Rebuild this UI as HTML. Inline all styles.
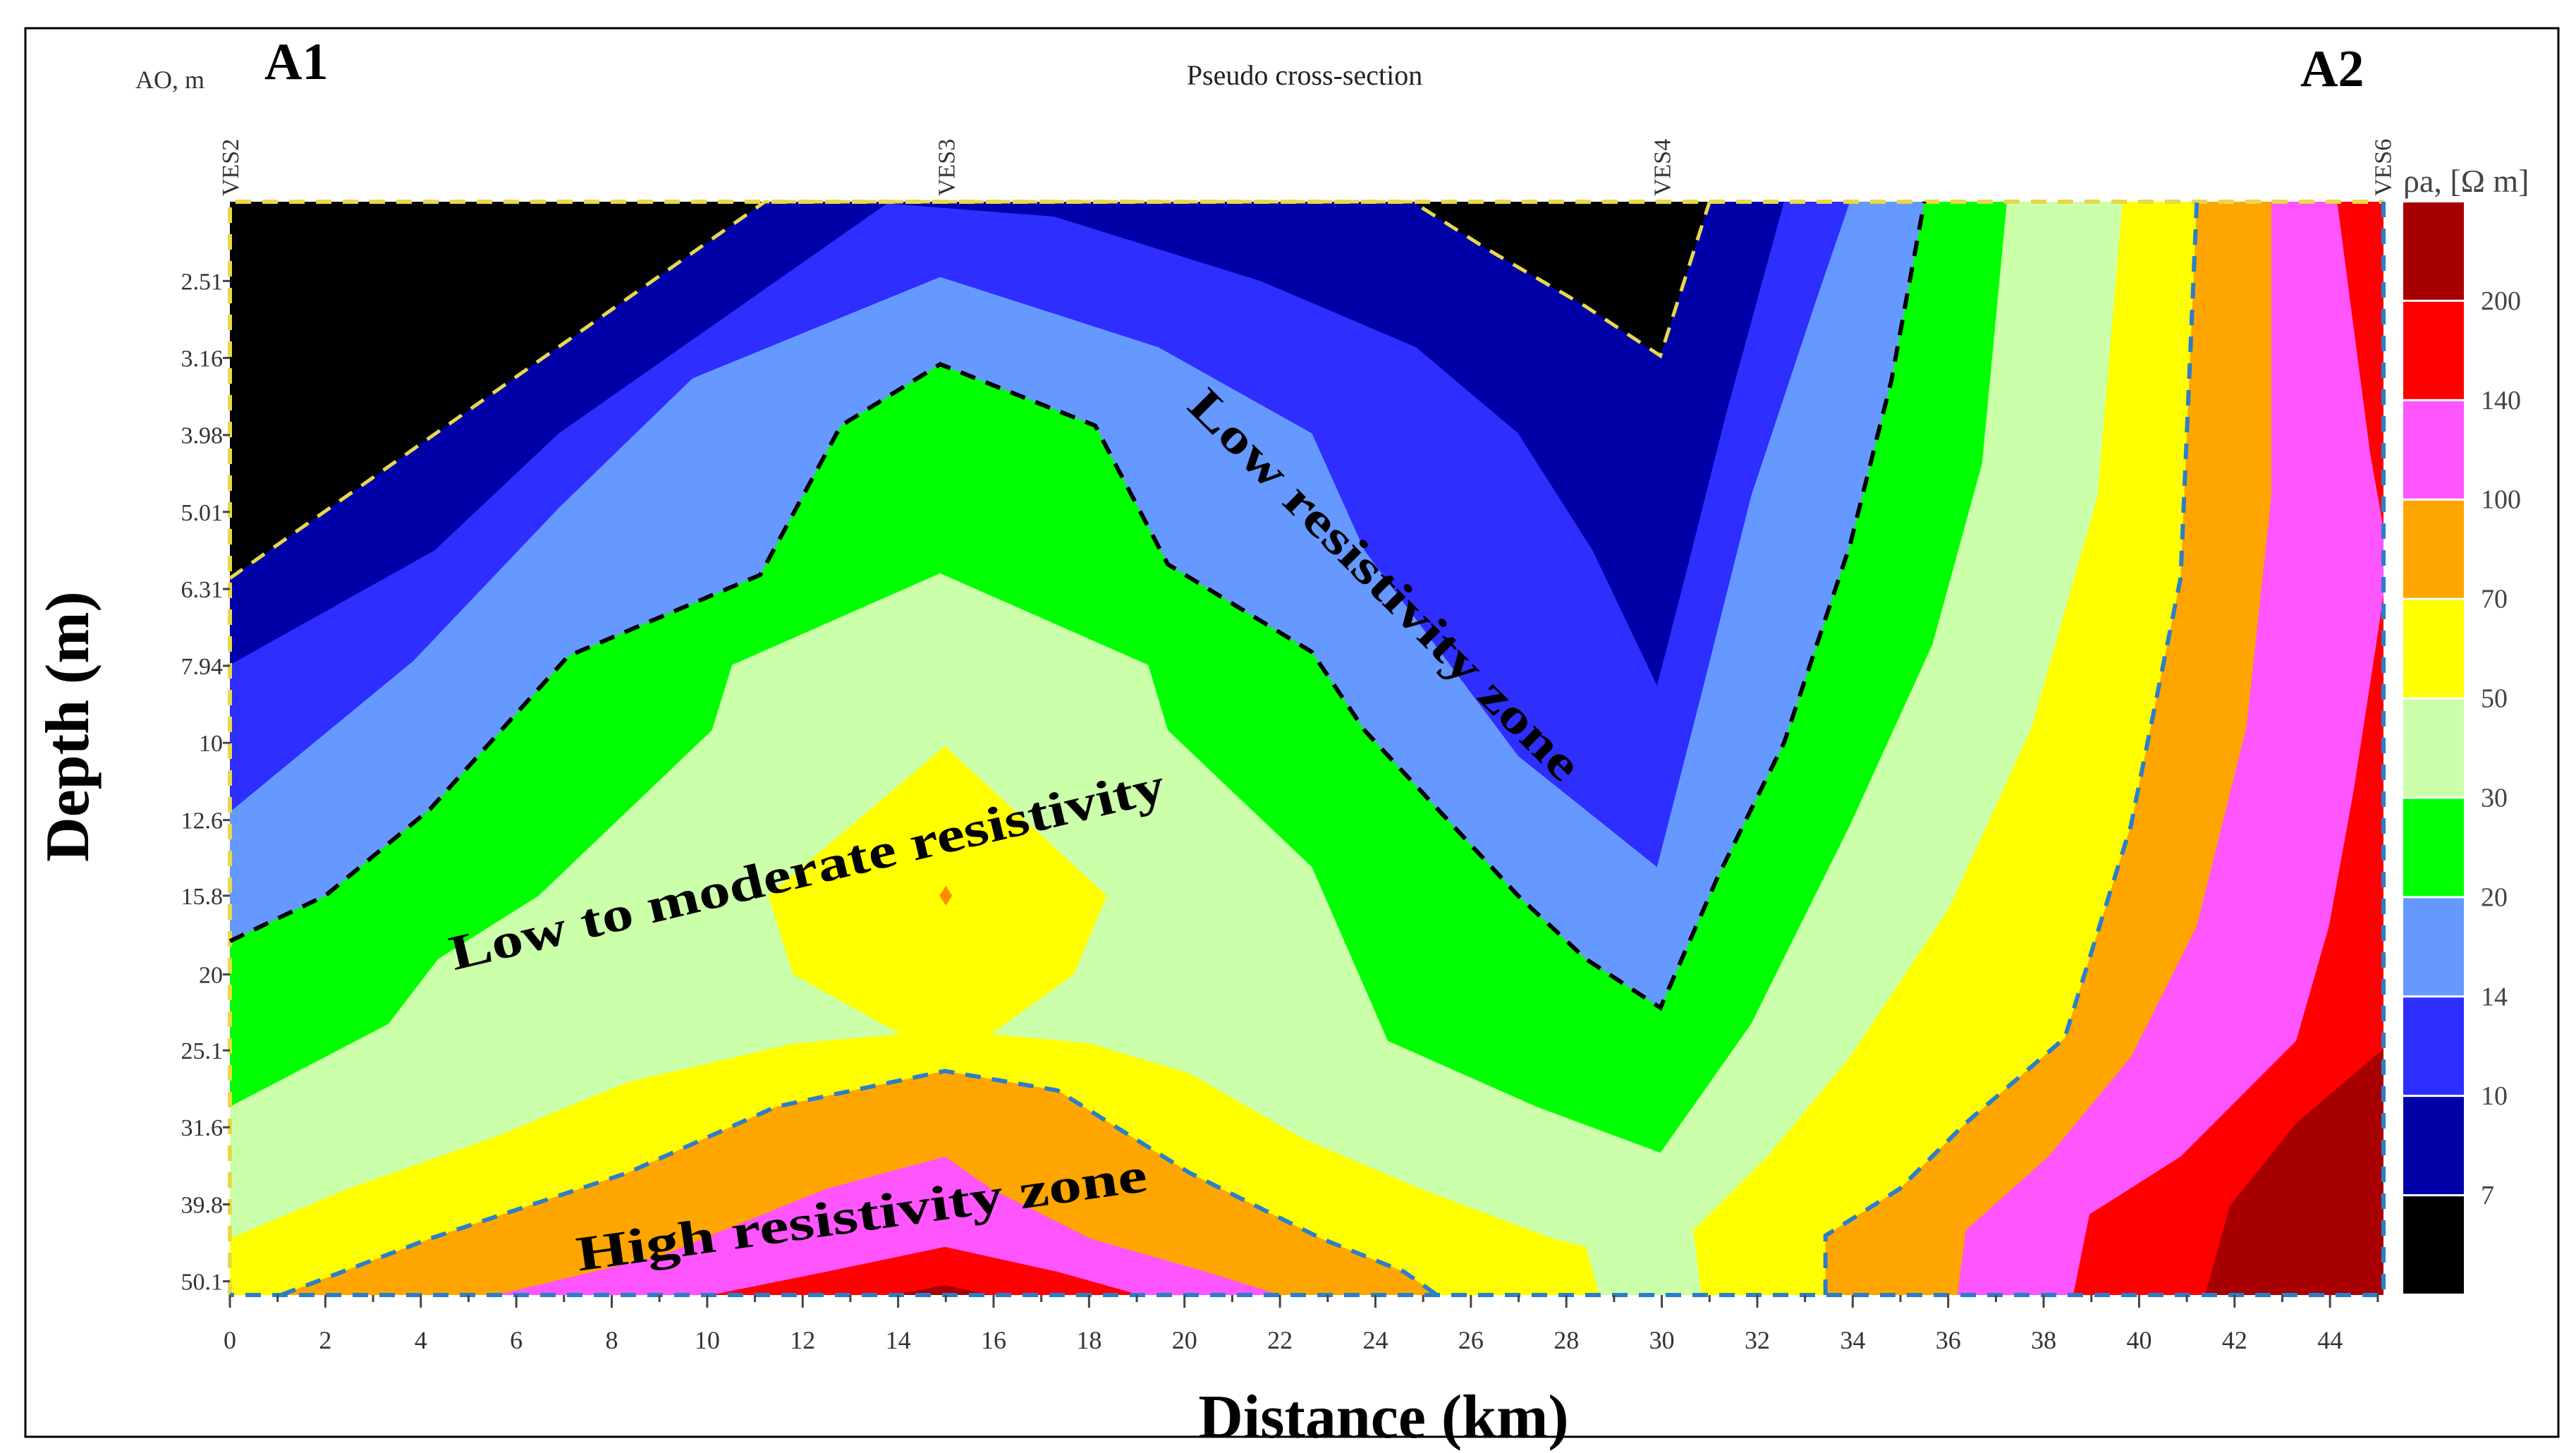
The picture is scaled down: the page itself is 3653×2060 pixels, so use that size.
<!DOCTYPE html>
<html><head><meta charset="utf-8">
<style>
html,body{margin:0;padding:0;background:#fff;}
svg{display:block;}
text{font-family:"Liberation Serif",serif;}
</style></head>
<body>
<svg id="chart" width="3653" height="2060" viewBox="0 0 3653 2060" xmlns="http://www.w3.org/2000/svg">
<rect x="0" y="0" width="3653" height="2060" fill="#fff"/>
<rect x="36" y="40" width="3592" height="1997" fill="none" stroke="#000" stroke-width="3"/>
<g id="plot"></g>
<g id="overlay"></g>
</svg>
<script>
// ---- data ----
const levelValues = [7, 10, 14, 20, 30, 50, 70, 100, 140, 200];
const levelColors = ["#0000A8","#2E2EFF","#6699FF","#00FF00","#CCFFAA","#FFFF00","#FFA500","#FF55FF","#FF0000","#A80000"];
const baseColor = "#000000";
const xTicks = [0,2,4,6,8,10,12,14,16,18,20,22,24,26,28,30,32,34,36,38,40,42,44];
const yTickLabels = ["2.51","3.16","3.98","5.01","6.31","7.94","10","12.6","15.8","20","25.1","31.6","39.8","50.1"];
const stations = ["VES2","VES3","VES4","VES6"];
const stationKm = [0, 15, 30, 45.1];
const colorbarLabels = ["200","140","100","70","50","30","20","14","10","7"];
// regions (km, depth m), one or more per contour level (>= level)
const region7 = [[[0,6.11],[11.21,1.98],[24.78,1.98],[26.33,2.28],[28.41,2.71],[29.97,3.14],[31.0,1.98],[45.12,1.98],[45.12,52.2],[0,52.2]]];
const region10 = [[[0,7.92],[4.29,5.62],[6.89,3.96],[13.77,1.99],[17.27,2.07],[21.59,2.51],[24.85,3.06],[26.99,3.96],[28.55,5.62],[29.9,8.43],[30.48,6.11],[31.35,3.73],[32.56,1.98],[45.12,1.98],[45.12,52.2],[0,52.2]]];
const region14 = [[[0,12.3],[3.84,7.83],[6.89,4.95],[9.69,3.36],[14.88,2.48],[19.45,3.06],[22.67,3.96],[23.77,5.62],[26.99,10.4],[29.9,14.5],[30.83,8.64],[31.87,4.78],[33.25,2.64],[33.94,1.98],[45.12,1.98],[45.12,52.2],[0,52.2]]];
const region20 = [[[0,18.1],[2.0,15.8],[4.19,12.2],[7.09,7.71],[11.11,6.05],[12.8,3.87],[14.88,3.22],[18.13,3.87],[19.65,5.86],[22.67,7.62],[23.77,9.63],[26.99,15.8],[28.41,19.1],[29.97,22.1],[31.18,14.9],[32.56,10.0],[33.94,5.54],[34.81,3.38],[35.5,1.98],[45.12,1.98],[45.12,52.2],[0,52.2]]];
const region30 = [[[0,29.7],[3.32,23.2],[4.36,19.1],[6.47,15.8],[10.1,9.63],[10.52,7.92],[14.88,6.02],[19.24,7.92],[19.65,9.63],[22.67,14.5],[24.26,24.4],[27.37,29.7],[29.97,34.1],[31.87,23.2],[33.94,12.8],[35.67,7.45],[36.71,4.33],[37.23,1.98],[45.12,1.98],[45.12,52.2],[0,52.2]]];
const region50 = [
 [[0,44.1],[2.46,38.0],[5.57,32.5],[8.34,27.6],[11.8,24.6],[14.05,23.9],[11.8,20.0],[11.28,15.8],[14.98,10.1],[18.37,15.8],[17.68,20.0],[15.95,23.9],[18.03,24.6],[20.1,26.9],[22.53,32.8],[24.95,38.0],[27.72,44.1],[28.41,45.2],[28.69,52.2],[0,52.2]],
 [[30.83,52.2],[30.66,43.0],[32.21,34.5],[33.94,25.6],[36.02,16.4],[37.75,9.54],[39.13,4.78],[39.65,1.98],[45.12,1.98],[45.12,52.2]]];
const region70 = [
 [[1.07,52.2],[4.19,44.1],[8.34,36.2],[11.45,29.7],[14.98,26.7],[17.34,28.3],[20.1,36.2],[22.87,44.1],[24.6,48.7],[25.29,52.2]],
 [[33.43,52.2],[33.43,43.7],[34.98,38.0],[36.37,31.2],[38.44,24.2],[39.83,12.8],[40.87,6.11],[41.21,1.98],[45.12,1.98],[45.12,52.2]]];
const region100 = [
 [[5.57,52.2],[9.03,46.4],[12.49,38.0],[14.98,34.5],[15.95,38.0],[18.03,44.1],[20.45,48.7],[22.01,52.2]],
 [[36.19,52.2],[36.37,43.0],[38.1,34.5],[39.83,25.6],[41.21,17.3],[42.25,9.54],[42.77,4.78],[42.77,1.98],[45.12,1.98],[45.12,52.2]]];
const region140 = [
 [[10.07,52.2],[12.49,48.7],[14.98,45.2],[17.34,48.7],[19.07,52.2]],
 [[38.62,52.2],[38.96,41.0],[40.87,34.5],[43.29,24.4],[43.98,17.3],[44.5,11.5],[45.02,7.09],[45.12,6.42],[45.12,52.2]],
 [[44.15,1.98],[45.12,1.98],[45.12,5.27],[44.84,4.2]]];
const region200 = [
 [[13.88,52.2],[14.98,50.7],[15.95,52.2]],
 [[41.38,52.2],[41.9,40.0],[43.29,31.2],[45.12,25.0],[45.12,52.2]]];
const regions = [region7,region10,region14,region20,region30,region50,region70,region100,region140,region200];

// ---- axes ----
const X0=326, X1=3380, Y0=286, Y1=1836, KMAX=45.12, DMIN=1.98, DMAX=52.2;
function xs(km){ return X0 + km/KMAX*(X1-X0); }
function ys(d){ return Y0 + (Math.log10(d)-Math.log10(DMIN))/(Math.log10(DMAX)-Math.log10(DMIN))*(Y1-Y0); }
const NS="http://www.w3.org/2000/svg";
function mk(tag, attrs, parent){ const e=document.createElementNS(NS,tag); for(const k in attrs) e.setAttribute(k,attrs[k]); parent.appendChild(e); return e; }
const plot=document.getElementById('plot'), ov=document.getElementById('overlay');
function pts(poly){ return poly.map(p=>xs(p[0]).toFixed(1)+','+ys(p[1]).toFixed(1)).join(' '); }

const bg=mk('rect',{x:X0,y:Y0,width:X1-X0,height:Y1-Y0,fill:baseColor},plot);


regions.forEach((polys,li)=>{
  polys.forEach((poly,pi)=>{
    const p=mk('polygon',{points:pts(poly),fill:levelColors[li]},plot);
    
    
  });
});
function dashed(poly,color,name,w){
  const l=mk('polyline',{points:pts(poly),fill:'none',stroke:color,'stroke-width':w||6,'stroke-dasharray':'22 16'},ov);
  
  
}
dashed([[0,52.2],[0,1.98],[45.12,1.98]],'#E8D84A','black-zone-boundary-frame',6);
dashed(region7[0].slice(0,7),'#E8D84A','black-zone-boundary',5);
dashed(region20[0].slice(0,19),'#000','low-resistivity-boundary',6);
dashed(region70[0],'#2A7FC8','high-resistivity-boundary',6);
dashed(region70[1].slice(0,8),'#2A7FC8','high-resistivity-boundary-right',6);
dashed([[45.12,1.98],[45.12,52.2],[0,52.2]],'#2A7FC8','plot-frame-right-bottom',6);

const dm=mk('polygon',{points:`${xs(15)},${ys(15.8)-14} ${xs(15)+9},${ys(15.8)} ${xs(15)},${ys(15.8)+14} ${xs(15)-9},${ys(15.8)}`,fill:'#FF8C00'},ov);



for(let k=0;k<=45;k++){
  const major=k%2===0;
  const t=mk('line',{x1:xs(k),x2:xs(k),y1:Y1,y2:Y1+(major?18:10),stroke:'#444','stroke-width':3},ov);
  
  
}
xTicks.forEach(v=>{
  const t=mk('text',{x:xs(v),y:1912,'font-size':36,'text-anchor':'middle',fill:'#333'},ov);
  t.textContent=v;
  
  
});
yTickLabels.forEach(v=>{
  const y=ys(parseFloat(v));
  const tk=mk('line',{x1:X0-10,x2:X0,y1:y,y2:y,stroke:'#444','stroke-width':3},ov);
  
  
  const t=mk('text',{x:X0-10,y:y+12,'font-size':34,'text-anchor':'end',fill:'#333'},ov);
  t.textContent=v;
  
  
});
stations.forEach((s,i)=>{
  const x=xs(stationKm[i]);
  const t=mk('text',{x:0,y:0,'font-size':34,fill:'#333',transform:`translate(${x+12},${Y0-8}) rotate(-90)`},ov);
  t.textContent=s;
  
  
});
const CB_X=3408, CB_W=86, nb=levelColors.length+1;
const cbColors=[baseColor].concat(levelColors).reverse();
const bh=(Y1-Y0)/nb;
cbColors.forEach((c,i)=>{
  const r=mk('rect',{x:CB_X,y:Y0+i*bh+1,width:CB_W,height:bh-3,fill:c},ov);
  
  
});
colorbarLabels.forEach((l,i)=>{
  const t=mk('text',{x:3518,y:Y0+(i+1)*bh+12,'font-size':38,fill:'#444'},ov);
  t.textContent=l;
  
  
});
</script>
<svg style="position:absolute;left:0;top:0" width="3653" height="2060" viewBox="0 0 3653 2060" xmlns="http://www.w3.org/2000/svg">
<text x="375" y="112" font-size="74" font-weight="bold" font-family="Liberation Serif, serif">A1</text>
<text x="3262" y="122" font-size="74" font-weight="bold" font-family="Liberation Serif, serif">A2</text>
<text x="192" y="125" font-size="36" fill="#333" font-family="Liberation Serif, serif">AO, m</text>
<text x="1850" y="120" font-size="40" text-anchor="middle" fill="#222" font-family="Liberation Serif, serif">Pseudo cross-section</text>
<text x="3408" y="272" font-size="46" fill="#444" font-family="Liberation Serif, serif">ρa, [Ω m]</text>
<text transform="translate(125,1030) rotate(-90)" font-size="88" font-weight="bold" text-anchor="middle" font-family="Liberation Serif, serif">Depth (m)</text>
<text x="1962" y="2038" font-size="88" font-weight="bold" text-anchor="middle" font-family="Liberation Serif, serif">Distance (km)</text>
<text transform="translate(1948,845) rotate(45)" x="-377" y="0" font-size="68" font-weight="bold" textLength="754" lengthAdjust="spacingAndGlyphs" font-family="Liberation Serif, serif">Low resistivity zone</text>
<text transform="translate(1150,1255) rotate(-13.4)" x="-520" y="0" font-size="70" font-weight="bold" textLength="1040" lengthAdjust="spacingAndGlyphs" font-family="Liberation Serif, serif">Low to moderate resistivity</text>
<text transform="translate(1225,1745) rotate(-8)" x="-408" y="0" font-size="70" font-weight="bold" textLength="816" lengthAdjust="spacingAndGlyphs" font-family="Liberation Serif, serif">High resistivity zone</text>
</svg>
</body></html>
